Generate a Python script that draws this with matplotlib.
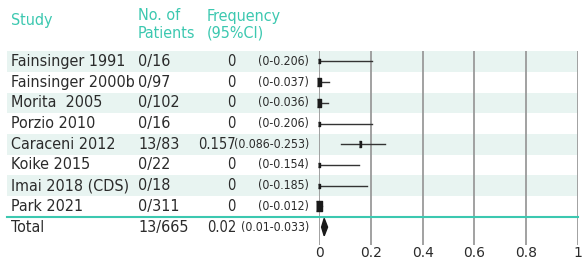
import matplotlib
matplotlib.use('Agg')
import matplotlib.pyplot as plt
from matplotlib.patches import Rectangle, Polygon
import matplotlib.transforms as mtransforms

plt.rcParams['font.family'] = ['DejaVu Sans']
plt.rcParams['font.stretch'] = 'condensed'

"""
Data
"""
studies = ['Fainsinger 1991', 'Fainsinger 2000b', 'Morita  2005', 'Porzio 2010',
           'Caraceni 2012', 'Koike 2015', 'Imai 2018 (CDS)', 'Park 2021']
patients = ['0/16', '0/97', '0/102', '0/16', '13/83', '0/22', '0/18', '0/311']
freq = [0, 0, 0, 0, 0.157, 0, 0, 0]
ci_lo = [0, 0, 0, 0, 0.086, 0, 0, 0]
ci_hi = [0.206, 0.037, 0.036, 0.206, 0.253, 0.154, 0.185, 0.012]
weight = [1.0, 1.6, 1.6, 1.0, 1.2, 1.0, 1.0, 2.3]
total_patients = '13/665'
total_freq = 0.02
total_lo = 0.01
total_hi = 0.033
xticks = [0, 0.2, 0.4, 0.6, 0.8, 1]

teal = '#3cc8b0'
band = '#e8f4f1'
txt = '#2b2b2b'
fs = 11.5
fs_ci = 8.8

W, H = 587, 260
fig = plt.figure(figsize=(W / 100, H / 100), dpi=100)
x0, x1 = 319, 578
top, bot = 51, 245
ax = fig.add_axes([x0 / W, 1 - bot / H, (x1 - x0) / W, (bot - top) / H])

row_top = 61.5
row_h = 20.7
ax.set_xlim(0, 1)
ax.set_ylim((bot - row_top) / row_h, (top - row_top) / row_h)

def px(x):
    return (x - x0) / (x1 - x0)

trans = mtransforms.blended_transform_factory(ax.transAxes, ax.transData)

# bands
for i in range(len(studies)):
    if i % 2 == 0:
        ax.add_patch(Rectangle((px(7), i - 0.5), 1 - px(7), 1, transform=trans,
                               facecolor=band, edgecolor='none', clip_on=False, zorder=0))

# grid lines
for t in xticks:
    ax.axvline(t, color='#9a9a9a', lw=1.3, zorder=1)

# separator
ax.plot([px(7), 1], [7.5, 7.5], transform=trans, color=teal, lw=1.5, clip_on=False, zorder=2)

# CI lines and squares
for i in range(len(studies)):
    ax.plot([ci_lo[i], ci_hi[i]], [i, i], color='#333333', lw=1.0, zorder=3)
    ax.plot(freq[i], i, marker=[(-0.55, -1), (0.55, -1), (0.55, 1), (-0.55, 1)],
            markersize=3.2 * weight[i], color='#1a1a1a', zorder=4, clip_on=False)

# diamond
n = len(studies)
ax.add_patch(Polygon([[total_lo, n], [total_freq, n - 0.42], [total_hi, n], [total_freq, n + 0.42]],
                     closed=True, facecolor='#1a1a1a', edgecolor='#1a1a1a', zorder=4, clip_on=False))

# table text
for i in range(n):
    ax.text(px(11), i, studies[i], transform=trans, ha='left', va='center', fontsize=fs, color=txt)
    ax.text(px(138), i, patients[i], transform=trans, ha='left', va='center', fontsize=fs, color=txt)
    ax.text(px(236), i, '%g' % freq[i], transform=trans, ha='right', va='center',
            fontsize=fs - 1, color=txt)
    ax.text(px(309), i, '(%g-%g)' % (ci_lo[i], ci_hi[i]), transform=trans, ha='right', va='center',
            fontsize=fs_ci, color=txt)
ax.text(px(11), n, 'Total', transform=trans, ha='left', va='center', fontsize=fs, color=txt)
ax.text(px(138), n, total_patients, transform=trans, ha='left', va='center', fontsize=fs, color=txt)
ax.text(px(236), n, '%g' % total_freq, transform=trans, ha='right', va='center', fontsize=fs - 1, color=txt)
ax.text(px(309), n, '(%g-%g)' % (total_lo, total_hi), transform=trans, ha='right', va='center',
        fontsize=fs_ci, color=txt)

# headers
hfs = 11.5
fig.text(11 / W, 1 - 20 / H, 'Study', ha='left', va='center', fontsize=hfs, color=teal)
fig.text(138 / W, 1 - 16 / H, 'No. of', ha='left', va='center', fontsize=hfs, color=teal)
fig.text(138 / W, 1 - 33.5 / H, 'Patients', ha='left', va='center', fontsize=hfs, color=teal)
fig.text(207 / W, 1 - 16 / H, 'Frequency', ha='left', va='center', fontsize=hfs, color=teal)
fig.text(207 / W, 1 - 33.5 / H, '(95%CI)', ha='left', va='center', fontsize=hfs, color=teal)

ax.set_xticks(xticks)
ax.set_xticklabels(['%g' % t for t in xticks], fontstretch='normal')
ax.tick_params(axis='x', length=0, labelsize=10, colors=txt, pad=1)
ax.set_yticks([])
for s in ax.spines.values():
    s.set_visible(False)

fig.savefig('out.png', dpi=100)
